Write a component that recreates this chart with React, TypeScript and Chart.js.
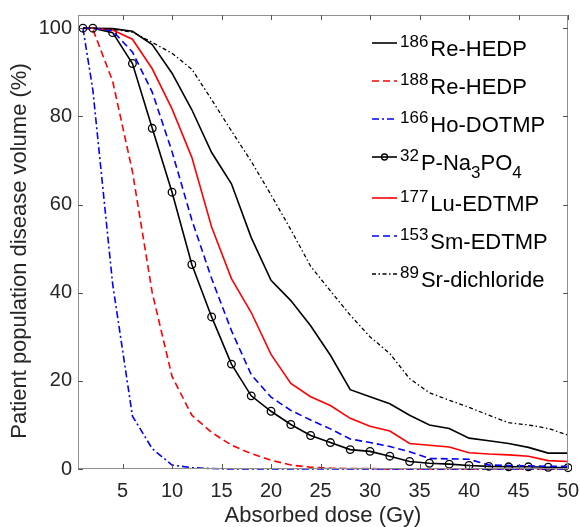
import React, { useEffect, useRef } from 'react';
import { Chart, registerables } from 'chart.js';

Chart.register(...registerables);

// ---- data ----
const doseX = [1, 2, 4, 6, 8, 10, 12, 14, 16, 18, 20, 22, 24, 26, 28, 30, 32, 34, 36, 38, 40, 42, 44, 46, 48, 50];

const re186 = [100, 100, 99.9, 99.3, 96.3, 89.8, 81.5, 71.8, 64.7, 52.5, 42.8, 38.2, 32.5, 25.8, 18, 16.4, 14.8, 12.2, 10, 9.2, 7, 6.4, 5.8, 4.9, 3.6, 3.6];
const re188 = [100, 99.8, 88, 67.5, 40, 21, 12.2, 8.3, 5.4, 3.5, 2.0, 0.9, 0.4, 0.2, 0.1, 0.1, 0, 0, 0, 0, 0, 0, 0, 0, 0, 0];
const ho166 = [100, 86, 42, 12, 4.6, 0.9, 0.3, 0.1, 0, 0, 0, 0, 0, 0, 0, 0, 0, 0, 0, 0, 0, 0, 0, 0, 0, 0];
const p32 = [100, 100, 99.0, 92.0, 77.3, 62.8, 46.4, 34.5, 23.8, 16.6, 13.1, 10.1, 7.6, 6.0, 4.4, 4.0, 2.9, 1.7, 1.3, 1.1, 0.8, 0.6, 0.5, 0.5, 0.4, 0.3];
const lu177 = [100, 100, 99.6, 97.5, 90.8, 81.7, 70.7, 54.9, 43.2, 35.5, 26, 19.4, 16.4, 14.4, 11.5, 9.7, 8.6, 5.8, 5.4, 5.0, 3.7, 3.4, 3.2, 2.9, 1.9, 1.7];
const sm153 = [100, 100, 99.4, 94.6, 85.5, 72, 56.5, 43.2, 31.4, 21.4, 16.3, 13.3, 11.1, 9.1, 6.8, 6.0, 5.1, 3.9, 2.4, 2.3, 2.2, 0.9, 0.8, 0.7, 0.6, 0.6];
const sr89 = [100, 100, 99.8, 99.1, 96.8, 94.3, 90.7, 83.8, 76.7, 69.8, 62.2, 54.3, 46, 40.4, 34.9, 30, 26.2, 20.5, 17.3, 15.6, 14, 12.2, 10.5, 10, 9.2, 7.7];

const xTicks = [5, 10, 15, 20, 25, 30, 35, 40, 45, 50];
const yTicks = [0, 20, 40, 60, 80, 100];

const xTitle = 'Absorbed dose (Gy)';
const yTitle = 'Patient population disease volume (%)';

type Seg = { t: string; k: 'n' | 'sup' | 'sub' };
const legendTexts: Seg[][] = [
  [{ t: '186', k: 'sup' }, { t: 'Re-HEDP', k: 'n' }],
  [{ t: '188', k: 'sup' }, { t: 'Re-HEDP', k: 'n' }],
  [{ t: '166', k: 'sup' }, { t: 'Ho-DOTMP', k: 'n' }],
  [{ t: '32', k: 'sup' }, { t: 'P-Na', k: 'n' }, { t: '3', k: 'sub' }, { t: 'PO', k: 'n' }, { t: '4', k: 'sub' }],
  [{ t: '177', k: 'sup' }, { t: 'Lu-EDTMP', k: 'n' }],
  [{ t: '153', k: 'sup' }, { t: 'Sm-EDTMP', k: 'n' }],
  [{ t: '89', k: 'sup' }, { t: 'Sr-dichloride', k: 'n' }],
];

const FONT = '"Liberation Sans", Arial, Helvetica, sans-serif';
const TEXT = '#262626';

const toXY = (ys: number[]) => ys.map((y, i) => ({ x: doseX[i], y }));

const frameAndLegend = {
  id: 'frameAndLegend',
  afterDraw(chart: any) {
    const ctx = chart.ctx;
    const { left, right, top, bottom } = chart.chartArea;
    const xs = chart.scales.x;
    const ys = chart.scales.y;
    ctx.save();
    // box
    ctx.strokeStyle = '#8f8f8f';
    ctx.lineWidth = 1;
    ctx.setLineDash([]);
    ctx.strokeRect(left + 0.5, top + 0.5, right - left - 1, bottom - top - 1);
    // inward ticks
    ctx.strokeStyle = '#555555';
    ctx.beginPath();
    xTicks.forEach((v) => {
      const px = Math.round(xs.getPixelForValue(v)) + 0.5;
      ctx.moveTo(px, bottom);
      ctx.lineTo(px, bottom - 5);
      ctx.moveTo(px, top);
      ctx.lineTo(px, top + 5);
    });
    yTicks.forEach((v) => {
      const py = Math.round(ys.getPixelForValue(v)) + 0.5;
      ctx.moveTo(left, py);
      ctx.lineTo(left + 5, py);
      ctx.moveTo(right, py);
      ctx.lineTo(right - 5, py);
    });
    ctx.stroke();

    // y-axis title
    ctx.save();
    ctx.translate(20, (top + bottom) / 2 + 9);
    ctx.rotate(-Math.PI / 2);
    ctx.font = `22px ${FONT}`;
    ctx.fillStyle = TEXT;
    ctx.textAlign = 'center';
    ctx.textBaseline = 'middle';
    ctx.fillText(yTitle, 0, 0);
    ctx.restore();

    // legend
    const sx0 = right - 196;
    const sx1 = right - 171;
    const tx0 = right - 168;
    chart.data.datasets.forEach((ds: any, i: number) => {
      const sy = top + 28 + i * 38 + (i > 3 ? 3 : 0);
      ctx.strokeStyle = ds.borderColor;
      ctx.lineWidth = ds.borderWidth;
      ctx.setLineDash(ds.borderDash || []);
      ctx.beginPath();
      ctx.moveTo(sx0, sy);
      ctx.lineTo(sx1, sy);
      ctx.stroke();
      ctx.setLineDash([]);
      if (ds.pointRadius) {
        ctx.lineWidth = ds.pointBorderWidth;
        ctx.beginPath();
        ctx.arc((sx0 + sx1) / 2, sy, 3, 0, Math.PI * 2);
        ctx.stroke();
      }
      let x = tx0;
      const base = sy + 13;
      ctx.fillStyle = '#000';
      ctx.textBaseline = 'alphabetic';
      ctx.textAlign = 'left';
      legendTexts[i].forEach((seg) => {
        let yy = base;
        if (seg.k === 'n') {
          ctx.font = `22px ${FONT}`;
        } else {
          ctx.font = `17px ${FONT}`;
          yy = seg.k === 'sup' ? sy + 4 : base + 8;
        }
        ctx.fillText(seg.t, x, yy);
        x += ctx.measureText(seg.t).width + (seg.k === 'sup' ? 2 : 0);
      });
    });
    ctx.restore();
  },
};

export default function App() {
  const ref = useRef<HTMLCanvasElement | null>(null);
  useEffect(() => {
    document.body.style.margin = '0';
    if (!ref.current) return;
    const base = { fill: false, tension: 0, pointRadius: 0, borderWidth: 1.6, clip: 4 };
    const chart = new Chart(ref.current, {
      type: 'line',
      data: {
        datasets: [
          { ...base, label: '186Re-HEDP', data: toXY(re186), borderColor: '#000000', borderDash: [], order: 7 },
          { ...base, label: '188Re-HEDP', data: toXY(re188), borderColor: '#ff0000', borderDash: [7, 4], order: 6 },
          { ...base, label: '166Ho-DOTMP', data: toXY(ho166), borderColor: '#0000ff', borderDash: [7, 3, 2, 3], order: 5 },
          {
            ...base, label: '32P-Na3PO4', data: toXY(p32), borderColor: '#000000', borderDash: [], order: 4,
            pointRadius: 3.8, pointHoverRadius: 3.8, pointBorderColor: '#000000', pointBackgroundColor: 'rgba(0,0,0,0)', pointBorderWidth: 1.3,
          },
          { ...base, label: '177Lu-EDTMP', data: toXY(lu177), borderColor: '#ff0000', borderDash: [], order: 3 },
          { ...base, label: '153Sm-EDTMP', data: toXY(sm153), borderColor: '#0000ff', borderDash: [7, 4], order: 2 },
          { ...base, label: '89Sr-dichloride', data: toXY(sr89), borderColor: '#000000', borderDash: [4, 2.5, 1.5, 2.5], borderWidth: 1.3, order: 1 },
        ] as any,
      },
      options: {
        animation: false,
        responsive: false,
        devicePixelRatio: 1,
        layout: { padding: { top: 15, right: 12, left: 0, bottom: 0 } },
        plugins: { legend: { display: false }, tooltip: { enabled: false } },
        events: [],
        scales: {
          x: {
            type: 'linear',
            min: 0.5,
            max: 50,
            grid: { display: false, drawTicks: false },
            border: { display: false },
            afterBuildTicks: (s: any) => { s.ticks = xTicks.map((v) => ({ value: v })); },
            afterFit: (s: any) => { s.height = 58; s.paddingLeft = 0; s.paddingRight = 0; },
            ticks: { font: { size: 20, family: FONT }, color: TEXT, padding: 10, maxRotation: 0 },
            title: { display: true, text: xTitle, font: { size: 22, family: FONT, lineHeight: 1 }, color: TEXT, padding: 0 },
          },
          y: {
            type: 'linear',
            min: 0,
            max: 103,
            grid: { display: false, drawTicks: false },
            border: { display: false },
            afterBuildTicks: (s: any) => { s.ticks = yTicks.map((v) => ({ value: v })); },
            afterFit: (s: any) => { s.width = 78; s.paddingTop = 0; s.paddingBottom = 0; },
            ticks: { font: { size: 20, family: FONT }, color: TEXT, padding: 6 },
            title: { display: false, text: yTitle },
          },
        },
      },
      plugins: [frameAndLegend],
    });
    return () => chart.destroy();
  }, []);
  return (
    <div style={{ width: 580, height: 527 }}>
      <canvas ref={ref} width={580} height={527} style={{ display: 'block', width: 580, height: 527 }} />
    </div>
  );
}
